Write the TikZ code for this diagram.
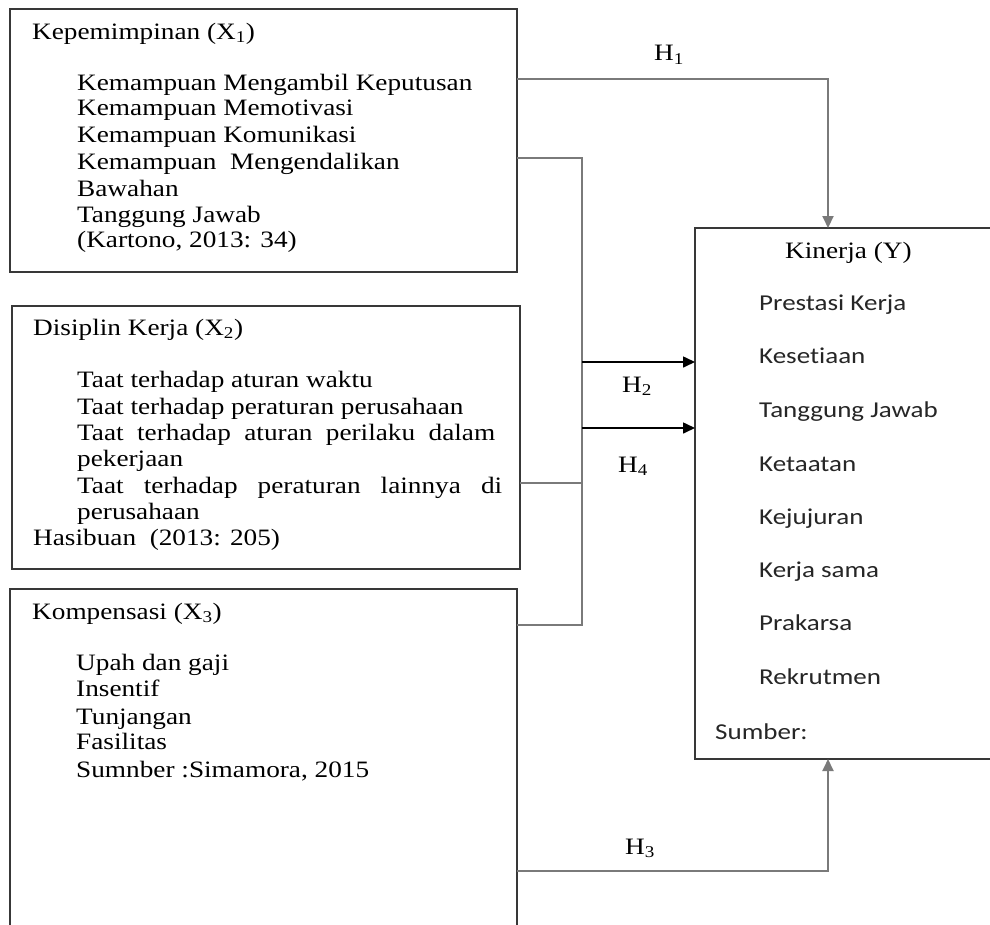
\documentclass[tikz,border=0pt]{standalone}
\usepackage{fontspec}
\newfontfamily\serifx[FakeStretch=1.16]{Liberation Serif}
\newfontfamily\sansx[FakeStretch=1.19,Ligatures={NoCommon}]{Carlito}
\usetikzlibrary{arrows.meta}
\tikzset{
  box/.style={draw=black!78, line width=1.7pt, inner sep=0pt, outer sep=0pt, anchor=north west},
  conn/.style={draw=black!52, line width=2pt},
  blk/.style={draw=black, line width=1.6pt},
  tip/.style={-{Triangle[length=12pt,width=11pt]}},
  serif/.style={font=\serifx\fontsize{23.5}{26}\selectfont, anchor=base west, inner sep=0pt},
  sans/.style={font=\sansx\fontsize{22.7}{26}\selectfont, anchor=base west, inner sep=0pt, text=black!85},
  hl/.style={font=\serifx\fontsize{23.5}{26}\selectfont, anchor=base, inner sep=0pt}
}
\begin{document}
\begin{tikzpicture}[x=1pt,y=-1pt]
\useasboundingbox (0,0) rectangle (990,924);
\clip (0,0) rectangle (990,924);
\fill[white] (0,0) rectangle (990,924);
% boxes
\node[box, minimum width=507pt, minimum height=263pt] (b1) at (10,9) {};
\node[box, minimum width=508pt, minimum height=263pt] (b2) at (12,306) {};
\node[box, minimum width=507pt, minimum height=400pt] (b3) at (10,589) {};
\node[box, minimum width=400pt, minimum height=531pt] (ky) at (695,228) {};
% box 1 text
\node[serif] (t10) at (32,39) {Kepemimpinan (X\textsubscript{1})};
\node[serif] (t11) at (77,90) {Kemampuan Mengambil Keputusan};
\node[serif] (t12) at (77,115) {Kemampuan Memotivasi};
\node[serif] (t13) at (77,142) {Kemampuan Komunikasi};
\node[serif] (t14) at (77,169) {Kemampuan\ \ Mengendalikan};
\node[serif] (t15) at (77,196) {Bawahan};
\node[serif] (t16) at (77,222) {Tanggung Jawab};
\node[serif] (t17) at (77,247) {(Kartono, 2013: 34)};
% box 2 text
\node[serif] (t20) at (33,335) {Disiplin Kerja (X\textsubscript{2})};
\node[serif] (t21) at (77,387) {Taat terhadap aturan waktu};
\node[serif] (t22) at (77,414) {Taat terhadap peraturan perusahaan};
\node[serif] (t23) at (77,440) {\makebox[418pt][s]{Taat terhadap aturan perilaku dalam}};
\node[serif] (t24) at (77,466) {pekerjaan};
\node[serif] (t25) at (77,493) {\makebox[425pt][s]{Taat terhadap peraturan lainnya di}};
\node[serif] (t26) at (77,519) {perusahaan};
\node[serif] (t27) at (33,545) {Hasibuan\ \ (2013: 205)};
% box 3 text
\node[serif] (t30) at (32,619) {Kompensasi (X\textsubscript{3})};
\node[serif] (t31) at (76,670) {Upah dan gaji};
\node[serif] (t32) at (76,696) {Insentif};
\node[serif] (t33) at (76,724) {Tunjangan};
\node[serif] (t34) at (76,749) {Fasilitas};
\node[serif] (t35) at (76,777) {Sumnber :Simamora, 2015};
% Kinerja text
\node[serif] (ty0) at (785,258) {Kinerja (Y)};
\node[sans] (ty1) at (759,310) {Prestasi Kerja};
\node[sans] (ty2) at (759,363) {Kesetiaan};
\node[sans] (ty3) at (759,417) {Tanggung Jawab};
\node[sans] (ty4) at (759,471) {Ketaatan};
\node[sans] (ty5) at (759,524) {Kejujuran};
\node[sans] (ty6) at (759,577) {Kerja sama};
\node[sans] (ty7) at (759,630) {Prakarsa};
\node[sans] (ty8) at (759,684) {Rekrutmen};
\node[sans] (ty9) at (715,739) {Sumber:};
% connectors
\draw[conn,tip] ([yshift=-70pt]b1.north east) -| ([xshift=133pt]ky.north west);
\draw[conn] ([yshift=-149pt]b1.north east) -| ([xshift=65pt,yshift=-36pt]b3.north east) -- ([yshift=-36pt]b3.north east);
\draw[conn] ([yshift=-177pt]b2.north east) -- ++(62pt,0);
\draw[blk,tip] ([xshift=-113pt,yshift=-134pt]ky.north west) -- ([yshift=-134pt]ky.north west);
\draw[blk,tip] ([xshift=-113pt,yshift=-200pt]ky.north west) -- ([yshift=-200pt]ky.north west);
\draw[conn,tip] ([yshift=-282pt]b3.north east) -| ([xshift=133pt]ky.south west);
% labels
\node[hl] (h1) at (669,60.5) {H\textsubscript{1}};
\node[hl] (h2) at (637,392) {H\textsubscript{2}};
\node[hl] (h4) at (633,472) {H\textsubscript{4}};
\node[hl] (h3) at (640,854) {H\textsubscript{3}};
\end{tikzpicture}
\end{document}
